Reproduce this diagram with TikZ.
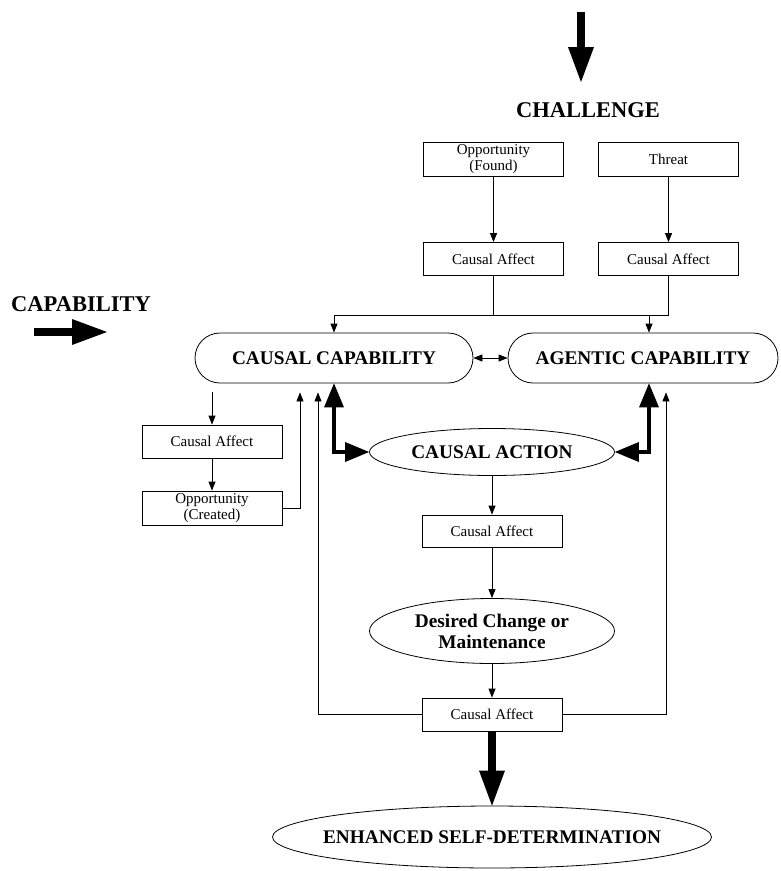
\documentclass[tikz,border=0pt]{standalone}
\usepackage{fontspec}
\setmainfont{Liberation Serif}
\usetikzlibrary{arrows.meta,shapes.geometric}
\tikzstyle{box} = [rectangle, draw=black, line width=0.8pt, minimum width=140pt, minimum height=33pt, inner sep=0pt, align=center, font=\fontsize{15}{16}\selectfont]
\tikzstyle{capa} = [rectangle, rounded corners=25pt, draw=black, line width=0.8pt, minimum height=50pt, inner sep=0pt, font=\fontsize{19.3}{21}\selectfont\bfseries]
\tikzstyle{oval} = [ellipse, draw=black, line width=0.8pt, inner sep=0pt, align=center, font=\fontsize{19.3}{21}\selectfont\bfseries]
\tikzstyle{heading} = [font=\fontsize{22.5}{26}\selectfont\bfseries]
\tikzstyle{flow} = [-{Triangle[width=7pt,length=9pt]}, line width=0.8pt]
\tikzstyle{twoway} = [{Triangle[width=7pt,length=9pt]}-{Triangle[width=7pt,length=9pt]}, line width=0.8pt]
\tikzstyle{fat} = [line width=8pt, -{Triangle[width=26pt,length=35pt,line width=0pt]}]
\tikzstyle{link} = [line width=4pt, line join=miter, {Triangle[width=20pt,length=24pt,line width=0pt]}-{Triangle[width=20pt,length=24pt,line width=0pt]}]

\begin{document}
\begin{tikzpicture}[x=1pt,y=-1pt]
\useasboundingbox (0,0) rectangle (780,871);

% headings and their arrows
\node (challenge) [heading] at (588,110) {CHALLENGE};
\node (capability) [heading] at (81,304) {CAPABILITY};
\coordinate (chtop) at (581,12);
\coordinate (chtip) at (581,82);
\coordinate (cptail) at (34,332);
\coordinate (cptip) at (107,332);
\draw [fat] (chtop) -- (chtip);
\draw [fat] (cptail) -- (cptip);

% challenge side
\node (found) [box, minimum height=34pt] at (493.5,159) {Opportunity\\(Found)};
\node (threat) [box, minimum height=34pt] at (668.5,159) {Threat};
\node (caF) [box] at (493.5,259) {Causal Affect};
\node (caT) [box] at (668.5,259) {Causal Affect};

% capabilities
\node (causal) [capa, minimum width=278pt] at (334,358) {CAUSAL CAPABILITY};
\node (agentic) [capa, minimum width=270pt] at (643,358) {AGENTIC CAPABILITY};

\node (caL) [box] at (212,441.5) {Causal Affect};
\node (created) [box, minimum height=34pt] at (212,508) {Opportunity\\(Created)};

% action chain
\node (action) [oval, minimum width=245pt, minimum height=47pt] at (492,452) {CAUSAL ACTION};
\node (caM) [box, minimum height=32pt] at (492,531) {Causal Affect};
\node (desired) [oval, minimum width=245pt, minimum height=65pt] at (492,631) {Desired Change or\\Maintenance};
\node (caB) [box] at (492,714.5) {Causal Affect};
\node (enhanced) [oval, minimum width=439pt, minimum height=62pt] at (492,837) {\makebox[0pt]{ENHANCED SELF-DETERMINATION}};

% connectors
\draw [flow] (found) -- (caF);
\draw [flow] (threat) -- (caT);
\coordinate (bus) at (0,315);
\draw [line width=0.8pt] (caF.south) -- (caF.south |- bus) -- (caT.south |- bus) -- (caT.south);
\draw [flow] (caF.south |- bus) -| (causal.north);
\draw [flow] (caT.south |- bus) -| ([xshift=6pt]agentic.north);
\draw [twoway] (causal) -- (agentic);

\draw [link] (causal.south) |- (action.west);
\draw [link] ([xshift=6pt]agentic.south) |- (action.east);

\draw [flow, shorten <=9pt] (causal.south -| caL.north) -- (caL.north);
\draw [flow] (caL) -- (created);
\draw [flow, shorten >=9pt] (created.east) -| ([xshift=-34pt]causal.south);

\draw [flow] (action) -- (caM);
\draw [flow] (caM) -- (desired);
\draw [flow] (desired) -- (caB);
\draw [flow, shorten >=9pt] (caB.west) -| ([xshift=-16pt]causal.south);
\draw [flow, shorten >=9pt] (caB.east) -| ([xshift=23pt]agentic.south);
\draw [fat] (caB) -- (enhanced);

\end{tikzpicture}
\end{document}
